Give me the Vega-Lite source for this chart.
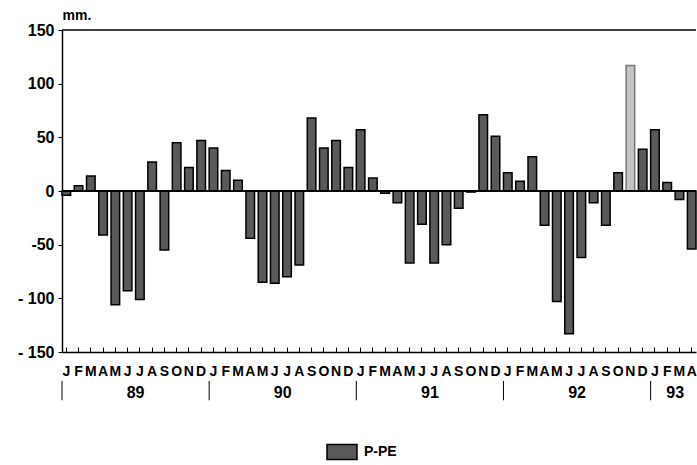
{
  "$schema": "https://vega.github.io/schema/vega-lite/v6.json",
  "width": 634,
  "height": 322,
  "autosize": {"type": "none"},
  "padding": {"left": 62, "top": 30, "right": 1, "bottom": 113},
  "background": "white",
  "config": {"view": {"stroke": null}, "font": "Liberation Sans"},
  "datasets": {
    "pe": [
      {"month": "1989-01", "value": -4}, {"month": "1989-02", "value": 5}, {"month": "1989-03", "value": 14},
      {"month": "1989-04", "value": -41}, {"month": "1989-05", "value": -106}, {"month": "1989-06", "value": -93},
      {"month": "1989-07", "value": -101}, {"month": "1989-08", "value": 27}, {"month": "1989-09", "value": -55},
      {"month": "1989-10", "value": 45}, {"month": "1989-11", "value": 22}, {"month": "1989-12", "value": 47},
      {"month": "1990-01", "value": 40}, {"month": "1990-02", "value": 19}, {"month": "1990-03", "value": 10},
      {"month": "1990-04", "value": -44}, {"month": "1990-05", "value": -85}, {"month": "1990-06", "value": -86},
      {"month": "1990-07", "value": -80}, {"month": "1990-08", "value": -69}, {"month": "1990-09", "value": 68},
      {"month": "1990-10", "value": 40}, {"month": "1990-11", "value": 47}, {"month": "1990-12", "value": 22},
      {"month": "1991-01", "value": 57}, {"month": "1991-02", "value": 12}, {"month": "1991-03", "value": -2},
      {"month": "1991-04", "value": -11}, {"month": "1991-05", "value": -67}, {"month": "1991-06", "value": -31},
      {"month": "1991-07", "value": -67}, {"month": "1991-08", "value": -50}, {"month": "1991-09", "value": -16},
      {"month": "1991-10", "value": -1}, {"month": "1991-11", "value": 71}, {"month": "1991-12", "value": 51},
      {"month": "1992-01", "value": 17}, {"month": "1992-02", "value": 9}, {"month": "1992-03", "value": 32},
      {"month": "1992-04", "value": -32}, {"month": "1992-05", "value": -103}, {"month": "1992-06", "value": -133},
      {"month": "1992-07", "value": -62}, {"month": "1992-08", "value": -11}, {"month": "1992-09", "value": -32},
      {"month": "1992-10", "value": 17}, {"month": "1992-11", "value": 117}, {"month": "1992-12", "value": 39},
      {"month": "1993-01", "value": 57}, {"month": "1993-02", "value": 8}, {"month": "1993-03", "value": -8},
      {"month": "1993-04", "value": -54}
    ],
    "years": [
      {"year": "89", "start": "1989-01", "mid": "1989-07"},
      {"year": "90", "start": "1990-01", "mid": "1990-07"},
      {"year": "91", "start": "1991-01", "mid": "1991-07"},
      {"year": "92", "start": "1992-01", "mid": "1992-07"},
      {"year": "93", "start": "1993-01", "mid": "1993-03"}
    ],
    "one": [{"k": 1}]
  },
  "layer": [
    {
      "data": {"name": "pe"},
      "mark": {"type": "bar", "strokeWidth": 1.5},
      "encoding": {
        "x": {
          "field": "month", "type": "ordinal",
          "scale": {"paddingInner": 0.3, "paddingOuter": 0},
          "axis": {
            "title": null, "labelAngle": 0,
            "labelExpr": "substring('JFMAMJJASOND', toNumber(substring(datum.value, 5, 7)) - 1, toNumber(substring(datum.value, 5, 7)))",
            "labelFont": "Liberation Sans", "labelFontSize": 14, "labelFontWeight": "bold", "labelColor": "black",
            "labelPadding": 17, "tickSize": -5, "tickColor": "black", "tickWidth": 1,
            "domainColor": "black", "domainWidth": 1.5
          }
        },
        "y": {
          "field": "value", "type": "quantitative",
          "scale": {"domain": [-150, 150], "nice": false},
          "axis": {
            "values": [-150, -100, -50, 0, 50, 100, 150], "grid": false,
            "labelExpr": "datum.value <= -100 ? '- ' + (-datum.value) : (datum.value < 0 ? '-' + (-datum.value) : '' + datum.value)",
            "labelFont": "Liberation Sans", "labelFontSize": 16, "labelFontWeight": "bold", "labelColor": "black",
            "labelPadding": 4, "tickSize": 4, "tickColor": "black", "domainColor": "black", "domainWidth": 1.5,
            "title": "mm.", "titleAngle": 0, "titleX": 0, "titleY": -15, "titleAlign": "left", "titleBaseline": "middle",
            "titleFont": "Liberation Sans", "titleFontSize": 14, "titleFontWeight": "bold", "titleColor": "black"
          }
        },
        "color": {
          "condition": {"test": "datum.month === '1992-11'", "value": "#c4c4c4"},
          "datum": "P-PE",
          "scale": {"range": ["#5a5a5a"]},
          "legend": {
            "title": null, "orient": "none", "legendX": 264, "legendY": 406,
            "symbolType": "M-1,-0.5H1V0.5H-1Z", "symbolSize": 900, "symbolStrokeColor": "black", "symbolStrokeWidth": 1.5,
            "symbolOpacity": 1,
            "labelFont": "Liberation Sans", "labelFontSize": 14, "labelFontWeight": "bold", "labelColor": "black", "labelOffset": 6
          }
        },
        "stroke": {
          "condition": {"test": "datum.month === '1992-11'", "value": "#777777"},
          "value": "black"
        },
        "opacity": {"value": 1}
      }
    },
    {
      "data": {"name": "one"},
      "mark": {"type": "rule", "color": "black", "strokeWidth": 2},
      "encoding": {"y": {"datum": 0}}
    },
    {
      "data": {"name": "one"},
      "mark": {"type": "rule", "color": "black", "strokeWidth": 1.5},
      "encoding": {"y": {"datum": 150}}
    },
    {
      "data": {"name": "years"},
      "mark": {"type": "rule", "color": "black", "strokeWidth": 1},
      "encoding": {
        "x": {"field": "start", "type": "ordinal", "bandPosition": 0},
        "y": {"datum": -177},
        "y2": {"datum": -195}
      }
    },
    {
      "data": {"name": "years"},
      "mark": {"type": "text", "font": "Liberation Sans", "fontSize": 16, "fontWeight": "bold", "color": "black", "align": "center", "baseline": "middle"},
      "encoding": {
        "x": {"field": "mid", "type": "ordinal", "bandPosition": 0},
        "y": {"datum": -188},
        "text": {"field": "year"}
      }
    }
  ]
}
